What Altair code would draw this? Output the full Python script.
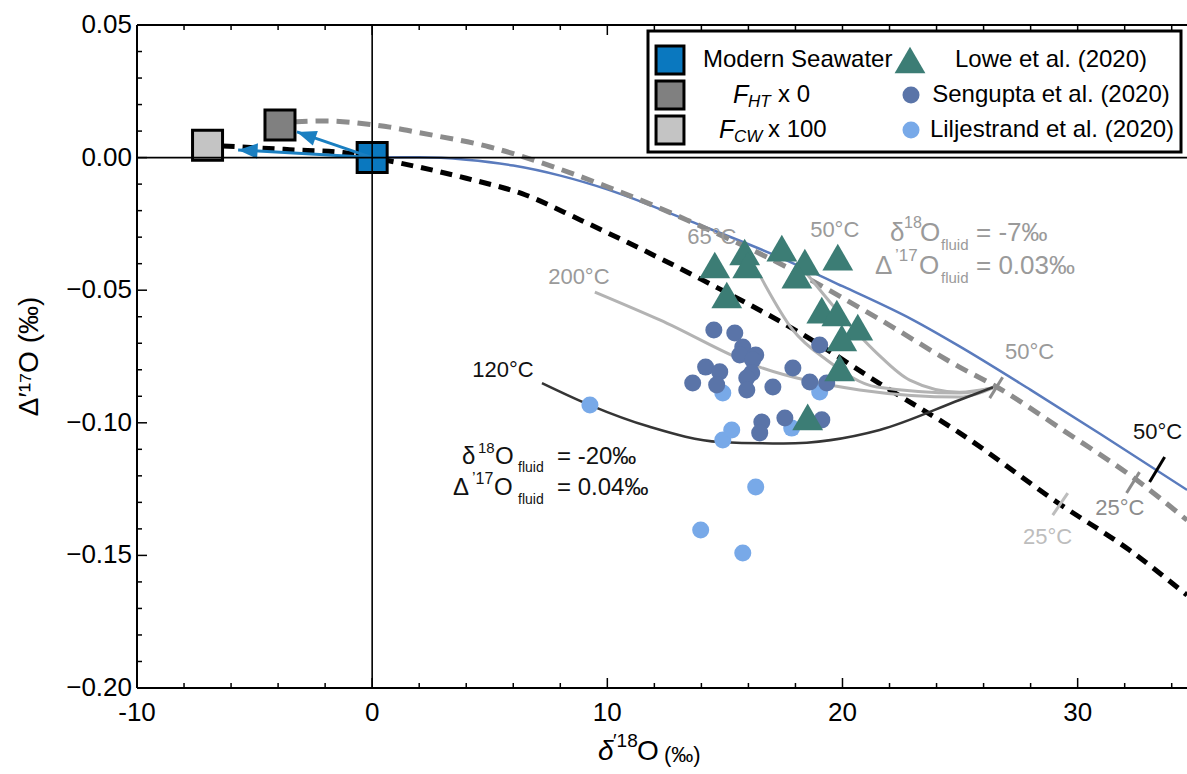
import math
import altair as alt
import pandas as pd

W, H = 1050, 663
XMIN, XMAX = -10.0, 34.65
YMIN, YMAX = -0.20, 0.05
FONT = "Liberation Sans"
L0, T0 = 137, 25  # plot origin in the page (for pixel-placed annotations)

# ---------------- data ----------------
sq_name = ["Modern Seawater", "F_HT x 0", "F_CW x 100"]
sq_x = [0.0, -3.92, -7.0]
sq_y = [0.0, 0.0123, 0.0047]
sq_color = ["#0a78bf", "#808080", "#c4c4c4"]

arrow_x0 = [0.0, 0.0]
arrow_y0 = [0.0, 0.0]
arrow_x1 = [-3.2, -5.7]
arrow_y1 = [0.0097, 0.0029]

lowe_x = [14.57, 15.84, 15.97, 15.08, 17.42, 18.40, 18.06, 19.80, 19.12, 19.76, 20.65, 19.97, 19.88, 18.52]
lowe_y = [-0.0405, -0.0356, -0.0405, -0.0518, -0.0341, -0.0394, -0.0443, -0.0375, -0.0575, -0.0586,
          -0.0639, -0.0680, -0.0793, -0.0978]

seng_x = [14.53, 15.42, 15.76, 15.63, 16.31, 16.18, 14.18, 14.78, 16.14, 15.93, 13.63, 14.65, 15.93,
          17.04, 17.89, 19.03, 18.61, 19.33, 16.57, 16.48, 17.55, 19.12]
seng_y = [-0.0650, -0.0661, -0.0714, -0.0744, -0.0744, -0.0763, -0.0790, -0.0808, -0.0812, -0.0831,
          -0.0850, -0.0857, -0.0876, -0.0865, -0.0793, -0.0707, -0.0846, -0.0850, -0.0997, -0.1038,
          -0.0982, -0.0989]

lilj_x = [9.26, 14.91, 15.29, 14.91, 19.03, 17.84, 16.31, 13.97, 15.76]
lilj_y = [-0.0933, -0.1065, -0.1027, -0.0888, -0.0884, -0.1020, -0.1242, -0.1404, -0.1491]

blue_x = [0, 2, 4, 6, 8, 10, 13.38, 17.04, 20, 22.99, 24.98, 28, 31, 34.65]
blue_y = [0, 0.0001, -0.0008, -0.0030, -0.0068, -0.0120, -0.0235, -0.0365, -0.0485, -0.0612,
          -0.0712, -0.0876, -0.1044, -0.1253]

gdash_x = [-3.3, -2, 0, 0.75, 2, 5, 8, 10, 13.38, 17.89, 21.58, 24.98, 26.56, 29.5, 32.51, 34.65]
gdash_y = [0.0135, 0.0138, 0.0124, 0.0115, 0.0094, 0.0040, -0.0044, -0.0110, -0.0235, -0.0425,
           -0.0610, -0.0790, -0.0865, -0.1035, -0.1216, -0.1367]

bdash_x = [-6.36, -3.5, -1.24, 0, 2, 4, 6.5, 8.85, 14.06, 18.48, 21.58, 24.98, 29.23, 32.2, 34.65]
bdash_y = [0.0044, 0.0030, 0.0019, 0.0, -0.0036, -0.0078, -0.0140, -0.0235, -0.0462, -0.0676,
           -0.0852, -0.1038, -0.1306, -0.1480, -0.1650]

c200_x = [9.47, 12.23, 16.48, 20.73, 24.98, 26.4]
c200_y = [-0.0507, -0.0612, -0.0790, -0.0876, -0.0903, -0.0868]
c65_x = [16.48, 17.89, 19.33, 21.46, 24.98, 26.4]
c65_y = [-0.0443, -0.0650, -0.0763, -0.0865, -0.0888, -0.0868]
c50_x = [18.5, 20.0, 21.46, 22.86, 24.98, 26.4]
c50_y = [-0.0440, -0.0600, -0.0737, -0.0839, -0.0885, -0.0868]
c120_x = [7.22, 9.26, 11.8, 14.78, 17.5, 21.58, 24.98, 26.4]
c120_y = [-0.0850, -0.0933, -0.1015, -0.1072, -0.1078, -0.1027, -0.0914, -0.0866]

# temperature tick marks on the curves
tick_x = [26.26, 32.08, 33.06, 28.94]
tick_y = [-0.0907, -0.1265, -0.1223, -0.1348]
tick_x2 = [26.81, 32.63, 33.70, 29.58]
tick_y2 = [-0.0828, -0.1186, -0.1129, -0.1265]
tick_col = ["#8c8c8c", "#8c8c8c", "#000000", "#bdbdbd"]

x_major = [-10, 0, 10, 20, 30]
x_minor = [-8, -6, -4, -2, 2, 4, 6, 8, 12, 14, 16, 18, 22, 24, 26, 28, 32, 34]
y_major = [-0.20, -0.15, -0.10, -0.05, 0.00, 0.05]
y_minor = [round(-0.20 + 0.01 * i, 2) for i in range(26) if i % 5 != 0]
x_tick_labels = ["-10", "0", "10", "20", "30"]
y_tick_labels = ["\u22120.20", "\u22120.15", "\u22120.10", "\u22120.05", "0.00", "0.05"]

# temperature labels (data coordinates): text, x, y, color
temp_labels = [
    ("65°C", 14.44, -0.0299, "#9a9a9a"),
    ("50°C", 19.67, -0.0273, "#9a9a9a"),
    ("200°C", 8.79, -0.0450, "#9a9a9a"),
    ("120°C", 5.56, -0.0801, "#111111"),
    ("50°C", 27.96, -0.0733, "#9a9a9a"),
    ("50°C", 33.40, -0.1035, "#111111"),
    ("25°C", 31.79, -0.1321, "#8c8c8c"),
    ("25°C", 28.72, -0.1431, "#bdbdbd"),
]

# composite annotation pieces (page pixels): text, left x, centre y, font size, color, italic
pieces = [
    # grey fluid composition
    ("δ", 890, 233, 26, "#9a9a9a", False), ("18", 904, 223, 16, "#9a9a9a", False),
    ("O", 920, 233, 26, "#9a9a9a", False), ("fluid", 941, 245, 15, "#9a9a9a", False),
    ("= -7‰", 976, 233, 26, "#9a9a9a", False),
    ("Δ", 875, 266, 26, "#9a9a9a", False), ("’17", 895, 256, 17, "#9a9a9a", False),
    ("O", 919, 266, 26, "#9a9a9a", False), ("fluid", 941, 278, 15, "#9a9a9a", False),
    ("= 0.03‰", 976, 266, 26, "#9a9a9a", False),
    # black fluid composition
    ("δ", 462, 457, 24, "#111111", False), ("18", 478, 448, 15, "#111111", False),
    ("O", 495, 457, 24, "#111111", False), ("fluid", 518, 468, 14, "#111111", False),
    ("= -20‰", 557, 457, 24, "#111111", False),
    ("Δ", 453, 488, 24, "#111111", False), ("’17", 472, 479, 16, "#111111", False),
    ("O", 494, 488, 24, "#111111", False), ("fluid", 518, 500, 14, "#111111", False),
    ("= 0.04‰", 557, 488, 24, "#111111", False),
    # legend labels
    ("Modern Seawater", 703, 60, 24, "#000000", False),
    ("F", 733, 95, 25, "#000000", True), ("HT", 748, 102, 17, "#000000", True),
    ("x 0", 778, 95, 24, "#000000", False),
    ("F", 719, 130, 25, "#000000", True), ("CW", 734, 137, 17, "#000000", True),
    ("x 100", 768, 130, 24, "#000000", False),
    # x axis title
    ("δ", 598, 752, 28, "#000000", True), ("′18", 613, 741, 19, "#000000", False),
    ("O", 637, 752, 28, "#000000", False), ("(‰)", 664, 755, 22, "#000000", False),
]
legend_right = [  # centred legend labels: text, centre x, centre y
    ("Lowe et al. (2020)", 1051, 60),
    ("Sengupta et al. (2020)", 1051, 95),
    ("Liljestrand et al. (2020)", 1052, 130),
]

# ---------------- helpers ----------------
xs = alt.Scale(domain=[XMIN, XMAX], nice=False, zero=False)
ys = alt.Scale(domain=[YMIN, YMAX], nice=False, zero=False)


def X(f="x"):
    return alt.X(f"{f}:Q", scale=xs, axis=None)


def Y(f="y"):
    return alt.Y(f"{f}:Q", scale=ys, axis=None)


def PX(f="x"):
    return alt.X(f"{f}:Q", scale=None, axis=None)


def PY(f="y"):
    return alt.Y(f"{f}:Q", scale=None, axis=None)


def line_df(xv, yv, name="c"):
    return pd.DataFrame({"x": xv, "y": yv, "i": range(len(xv)), "c": name})


layers = []

# curves
layers.append(alt.Chart(line_df(blue_x, blue_y)).mark_line(
    color="#5a7bbd", strokeWidth=2.5, interpolate="monotone").encode(x=X(), y=Y(), order="i:Q"))
layers.append(alt.Chart(line_df(gdash_x, gdash_y)).mark_line(
    color="#8c8c8c", strokeWidth=5, strokeDash=[13, 8], interpolate="monotone").encode(x=X(), y=Y(), order="i:Q"))
layers.append(alt.Chart(line_df(bdash_x, bdash_y)).mark_line(
    color="#000000", strokeWidth=5, strokeDash=[12, 8], interpolate="monotone").encode(x=X(), y=Y(), order="i:Q"))
light = pd.concat([line_df(c200_x, c200_y, "200"), line_df(c65_x, c65_y, "65"), line_df(c50_x, c50_y, "50")])
layers.append(alt.Chart(light).mark_line(
    color="#b3b3b3", strokeWidth=3, interpolate="monotone").encode(x=X(), y=Y(), detail="c:N", order="i:Q"))
layers.append(alt.Chart(line_df(c120_x, c120_y)).mark_line(
    color="#353535", strokeWidth=2.5, interpolate="monotone").encode(x=X(), y=Y(), order="i:Q"))

# temperature ticks
tdf = pd.DataFrame({"x": tick_x, "y": tick_y, "x2": tick_x2, "y2": tick_y2, "col": tick_col})
layers.append(alt.Chart(tdf).mark_rule(strokeWidth=3).encode(
    x=X(), y=Y(), x2="x2:Q", y2="y2:Q", color=alt.Color("col:N", scale=None)))

# data points
layers.append(alt.Chart(pd.DataFrame({"x": lilj_x, "y": lilj_y})).mark_circle(
    size=290, color="#78a9e8", opacity=1).encode(x=X(), y=Y()))
layers.append(alt.Chart(pd.DataFrame({"x": seng_x, "y": seng_y})).mark_circle(
    size=290, color="#5a74a8", opacity=1).encode(x=X(), y=Y()))
layers.append(alt.Chart(pd.DataFrame({"x": lowe_x, "y": lowe_y})).mark_point(
    shape="triangle-up", size=950, filled=True, color="#3c7d75", opacity=1).encode(x=X(), y=Y()))

# squares
sdf = pd.DataFrame({"x": sq_x, "y": sq_y, "col": sq_color, "name": sq_name})
layers.append(alt.Chart(sdf).mark_point(
    shape="square", size=900, filled=True, stroke="black", strokeWidth=3, opacity=1).encode(
    x=X(), y=Y(), fill=alt.Fill("col:N", scale=None)))

# arrows
px_per_x = W / (XMAX - XMIN)
px_per_y = H / (YMAX - YMIN)
angles = []
for a, b, c, d in zip(arrow_x0, arrow_y0, arrow_x1, arrow_y1):
    dx = (c - a) * px_per_x
    dy = -(d - b) * px_per_y
    angles.append(math.degrees(math.atan2(dx, -dy)) % 360)
adf = pd.DataFrame({"x": arrow_x0, "y": arrow_y0, "x2": arrow_x1, "y2": arrow_y1, "ang": angles})
layers.append(alt.Chart(adf).mark_rule(color="#1a7fc1", strokeWidth=3).encode(
    x=X(), y=Y(), x2="x2:Q", y2="y2:Q"))
layers.append(alt.Chart(adf).mark_point(
    shape="M0,0L-0.75,1.9L0.75,1.9Z", size=420, filled=True, color="#1a7fc1", opacity=1).encode(
    x=X("x2"), y=Y("y2"), angle=alt.Angle("ang:Q", scale=None)))

# zero lines
layers.append(alt.Chart(pd.DataFrame({"x": [0.0]})).mark_rule(color="black", strokeWidth=1.6).encode(x=X()))
layers.append(alt.Chart(pd.DataFrame({"y": [0.0]})).mark_rule(color="black", strokeWidth=1.6).encode(y=Y()))

# frame (left, top, bottom) and inward ticks
one = pd.DataFrame({"v": [0]})
layers.append(alt.Chart(one).mark_rule(color="black", strokeWidth=2).encode(
    x=alt.value(0), y=alt.value(0), y2=alt.value(H)))
layers.append(alt.Chart(one).mark_rule(color="black", strokeWidth=2).encode(
    y=alt.value(0), x=alt.value(0), x2=alt.value(W)))
layers.append(alt.Chart(one).mark_rule(color="black", strokeWidth=2).encode(
    y=alt.value(H), x=alt.value(0), x2=alt.value(W)))
for vals, ln in ((x_major, 10), (x_minor, 5)):
    d = pd.DataFrame({"x": vals})
    layers.append(alt.Chart(d).mark_rule(color="black", strokeWidth=1.5).encode(
        x=X(), y=alt.value(H), y2=alt.value(H - ln)))
    layers.append(alt.Chart(d).mark_rule(color="black", strokeWidth=1.5).encode(
        x=X(), y=alt.value(0), y2=alt.value(ln)))
for vals, ln in ((y_major, 10), (y_minor, 5)):
    d = pd.DataFrame({"y": vals})
    layers.append(alt.Chart(d).mark_rule(color="black", strokeWidth=1.5).encode(
        y=Y(), x=alt.value(0), x2=alt.value(ln)))

# tick labels
layers.append(alt.Chart(pd.DataFrame({"x": x_major, "t": x_tick_labels})).mark_text(
    font=FONT, fontSize=26, baseline="middle", align="center", color="black").encode(
    x=X(), y=alt.value(H + 25), text="t:N"))
layers.append(alt.Chart(pd.DataFrame({"y": y_major, "t": y_tick_labels})).mark_text(
    font=FONT, fontSize=26, baseline="middle", align="right", color="black").encode(
    y=Y(), x=alt.value(-5), text="t:N"))
# y axis title
layers.append(alt.Chart(one).mark_text(
    font=FONT, fontSize=28, baseline="middle", align="center", angle=270, color="black",
    text="Δ′¹⁷O (‰)").encode(x=alt.value(30 - L0), y=alt.value(H / 2)))

# temperature labels
tl = pd.DataFrame(temp_labels, columns=["t", "x", "y", "col"])
layers.append(alt.Chart(tl).mark_text(font=FONT, fontSize=22, baseline="middle", align="center").encode(
    x=X(), y=Y(), text="t:N", color=alt.Color("col:N", scale=None)))

# legend box and symbols
box = pd.DataFrame({"x": [648 - L0], "x2": [1181 - L0], "y": [31 - T0], "y2": [152 - T0]})
layers.append(alt.Chart(box).mark_rect(fill="white", stroke="black", strokeWidth=3).encode(
    x=PX(), x2="x2:Q", y=PY(), y2="y2:Q"))
leg_sq = pd.DataFrame({"x": [670 - L0] * 3, "y": [60 - T0, 95 - T0, 130 - T0], "col": sq_color})
layers.append(alt.Chart(leg_sq).mark_point(
    shape="square", size=780, filled=True, stroke="black", strokeWidth=3, opacity=1).encode(
    x=PX(), y=PY(), fill=alt.Fill("col:N", scale=None)))
layers.append(alt.Chart(pd.DataFrame({"x": [910 - L0], "y": [60 - T0]})).mark_point(
    shape="triangle-up", size=950, filled=True, color="#3c7d75", opacity=1).encode(x=PX(), y=PY()))
layers.append(alt.Chart(pd.DataFrame({"x": [911 - L0, 911 - L0], "y": [95 - T0, 130 - T0],
                                      "col": ["#5a74a8", "#78a9e8"]})).mark_circle(
    size=290, opacity=1).encode(x=PX(), y=PY(), color=alt.Color("col:N", scale=None)))
lr = pd.DataFrame(legend_right, columns=["t", "x", "y"])
lr["x"] = lr["x"] - L0
lr["y"] = lr["y"] - T0
layers.append(alt.Chart(lr).mark_text(font=FONT, fontSize=24, baseline="middle", align="center",
                                      color="black").encode(x=PX(), y=PY(), text="t:N"))

# composite text pieces
pc = pd.DataFrame(pieces, columns=["t", "x", "y", "fs", "col", "it"])
pc["x"] = pc["x"] - L0
pc["y"] = pc["y"] - T0
for it, style in ((False, "normal"), (True, "italic")):
    sub = pc[pc["it"] == it]
    layers.append(alt.Chart(sub).mark_text(font=FONT, fontStyle=style, baseline="middle", align="left").encode(
        x=PX(), y=PY(), text="t:N", size=alt.Size("fs:Q", scale=None), color=alt.Color("col:N", scale=None)))

chart = alt.layer(*layers).properties(
    width=W, height=H,
    autosize=alt.AutoSizeParams(type="none"),
    padding={"left": L0, "top": T0, "right": 0, "bottom": 774 - T0 - H},
).configure_view(stroke=None).configure(background="white")

chart.save("out.html", embed_options={"renderer": "svg", "actions": False})
